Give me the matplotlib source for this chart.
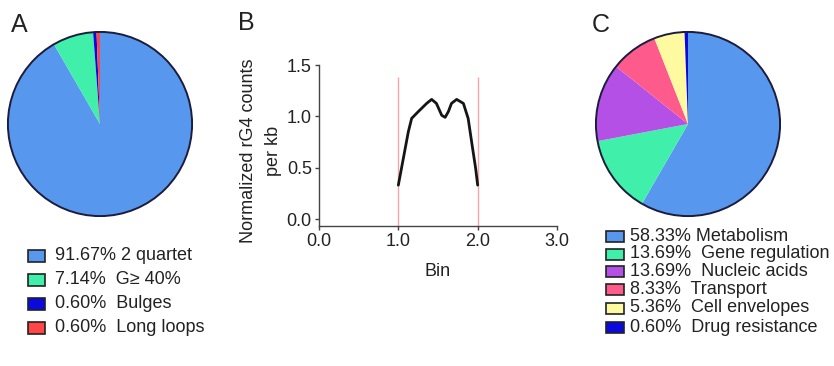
import matplotlib
matplotlib.use("Agg")
import matplotlib.pyplot as plt
from matplotlib.patches import Circle, Rectangle

plt.rcParams['font.family'] = ['Liberation Sans', 'DejaVu Sans']

# ---- data ----
a_labels = ["91.67% 2 quartet", "7.14%  G\u2265 40%", "0.60%  Bulges", "0.60%  Long loops"]
a_values = [91.67, 7.14, 0.60, 0.60]
a_colors = ["#5798EE", "#40F0AA", "#0A0AE0", "#FF4545"]

b_x = [1.0, 1.063, 1.126, 1.168, 1.25, 1.357, 1.42, 1.48, 1.547, 1.59, 1.63, 1.67,
       1.735, 1.82, 1.88, 1.93, 1.975, 2.0]
b_y = [0.33, 0.59, 0.85, 0.98, 1.045, 1.126, 1.165, 1.126, 1.01, 0.99, 1.045, 1.126,
       1.165, 1.126, 0.98, 0.72, 0.49, 0.33]
b_marks = [1.0, 2.0]
b_xticks = [0.0, 1.0, 2.0, 3.0]
b_yticks = [0.0, 0.5, 1.0, 1.5]

c_labels = ["58.33% Metabolism", "13.69%  Gene regulation", "13.69%  Nucleic acids",
            "8.33%  Transport", "5.36%  Cell envelopes", "0.60%  Drug resistance"]
c_values = [58.33, 13.69, 13.69, 8.33, 5.36, 0.60]
c_colors = ["#5798EE", "#40F0AA", "#B450E6", "#FF5A8C", "#FFF9A0", "#0A0AE0"]

W, H = 834, 366
fig = plt.figure(figsize=(W / 100, H / 100), dpi=100)


def px_axes(left, top, right, bottom):
    return fig.add_axes([left / W, 1 - bottom / H, (right - left) / W, (bottom - top) / H])


def pie_panel(left, top, size, values, colors):
    ax = px_axes(left, top, left + size, top + size)
    ax.pie(values, colors=colors, startangle=90, counterclock=False,
           wedgeprops=dict(edgecolor='none', linewidth=0))
    ax.add_patch(Circle((0, 0), 1.0, fill=False, edgecolor='#1c1c3c', linewidth=1.4))
    ax.set_xlim(-1.01, 1.01)
    ax.set_ylim(-1.01, 1.01)
    ax.set_aspect('equal')
    ax.axis('off')
    return ax


def legend_panel(x_box, x_text, y_rows, labels, colors, bw, bh, fs=13):
    for y, lab, col in zip(y_rows, labels, colors):
        fig.patches.append(Rectangle((x_box / W, 1 - (y + bh / 2) / H), bw / W, bh / H,
                                     transform=fig.transFigure, facecolor=col,
                                     edgecolor='#222222', linewidth=1.2))
        fig.text(x_text / W, 1 - y / H, lab, ha='left', va='center', fontsize=fs,
                 color='#222222')


# Panel A
pie_panel(7, 31, 186, a_values, a_colors)
legend_panel(28, 55, [256, 280, 304, 328], a_labels, a_colors, 17, 12)
fig.text(11 / W, 1 - 32 / H, "A", fontsize=18, ha='left', va='baseline', color='#222222')

# Panel C
pie_panel(595, 31, 186, c_values, c_colors)
legend_panel(606, 630, [236, 254, 271, 289, 308, 327], c_labels, c_colors, 18, 11)
fig.text(592 / W, 1 - 32 / H, "C", fontsize=18, ha='left', va='baseline', color='#222222')

# Panel B
axb = px_axes(319, 65, 557, 226)
axb.vlines(b_marks, -0.068, 1.38, colors='#F2A8A8', linewidth=1.0)
axb.plot(b_x, b_y, color='#151515', linewidth=2.0, solid_joinstyle='round',
         solid_capstyle='round')
axb.set_xlim(0, 3)
axb.set_ylim(-0.068, 1.5)
axb.set_xticks(b_xticks)
axb.set_xticklabels([f"{v:.1f}" for v in b_xticks])
axb.set_yticks(b_yticks)
axb.set_yticklabels([f"{v:.1f}" for v in b_yticks])
for s in ['top', 'right']:
    axb.spines[s].set_visible(False)
for s in ['left', 'bottom']:
    axb.spines[s].set_color('#444444')
    axb.spines[s].set_linewidth(1.0)
axb.tick_params(direction='out', length=3.2, width=1, colors='#444444',
                labelsize=13, labelcolor='#222222', pad=2)
axb.set_xlabel("Bin", fontsize=13, color='#222222', labelpad=9)
fig.text(261 / W, 1 - 151 / H, "Normalized rG4 counts\nper kb", fontsize=13,
         color='#222222', rotation=90, ha='center', va='center',
         multialignment='center', linespacing=1.55)
fig.text(238 / W, 1 - 30 / H, "B", fontsize=18, ha='left', va='baseline', color='#222222')

fig.savefig("out.png", dpi=100)
